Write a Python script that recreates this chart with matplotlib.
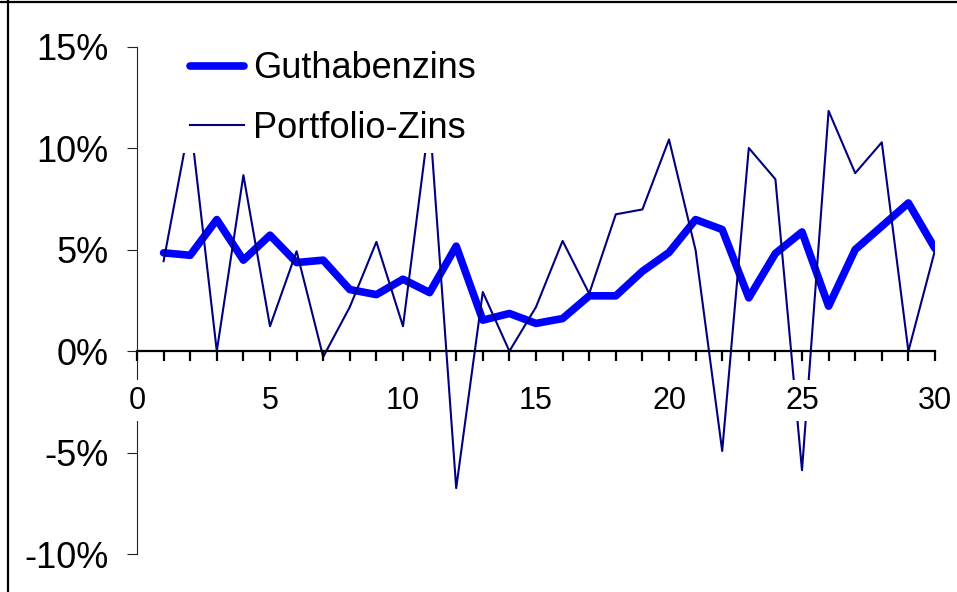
import matplotlib
matplotlib.use("Agg")
import matplotlib.pyplot as plt
from matplotlib.lines import Line2D
from matplotlib.ticker import MultipleLocator, FixedLocator, FuncFormatter

plt.rcParams['font.family'] = ['Liberation Sans', 'DejaVu Sans']
plt.rcParams['axes.unicode_minus'] = False

periods = list(range(1, 31))
guthabenzins = [4.85, 4.73, 6.49, 4.49, 5.72, 4.37, 4.49, 3.04, 2.79, 3.55,
                2.89, 5.18, 1.53, 1.86, 1.37, 1.61, 2.73, 2.73, 3.94, 4.87,
                6.49, 6.00, 2.63, 4.82, 5.88, 2.22, 5.01, 6.16, 7.31, 5.06]
portfolio_zins = [4.44, 11.4, 0.0, 8.68, 1.23, 4.93, -0.28, 2.18, 5.39, 1.23,
                  11.5, -6.75, 2.92, 0.0, 2.18, 5.44, 2.84, 6.75, 6.99, 10.44,
                  4.98, -4.92, 10.02, 8.48, -5.87, 11.85, 8.78, 10.30, 0.0, 4.98]
series_labels = ["Guthabenzins", "Portfolio-Zins"]
y_ticks = [-10, -5, 0, 5, 10, 15]
x_ticks = [0, 5, 10, 15, 20, 25, 30]

W, H = 957, 592
fig = plt.figure(figsize=(W / 100, H / 100), dpi=100)
ax = fig.add_axes([137 / W, (H - 554) / H, (935 - 137) / W, (554 - 47) / H])

ax.plot(periods, guthabenzins, color='#0000FF', lw=5.5, solid_capstyle='round',
        solid_joinstyle='round', label=series_labels[0], zorder=2)
ax.plot(periods, portfolio_zins, color='#000080', lw=1.5,
        label=series_labels[1], zorder=2.1)

ax.set_xlim(0, 30)
ax.set_ylim(-10, 15)
ax.set_axisbelow(False)

for s in ['top', 'right']:
    ax.spines[s].set_visible(False)
ax.spines['bottom'].set_position(('data', 0))
ax.spines['bottom'].set_linewidth(1.6)
ax.spines['bottom'].set_color('black')
ax.spines['left'].set_linewidth(0.8)
ax.spines['left'].set_color('#222222')

ax.xaxis.set_major_locator(FixedLocator(x_ticks))
ax.xaxis.set_minor_locator(MultipleLocator(1))
ax.yaxis.set_major_locator(FixedLocator(y_ticks))
ax.yaxis.set_major_formatter(FuncFormatter(lambda v, p: f"{v:.0f}%"))

ax.tick_params(axis='x', which='both', direction='out', length=7.5, width=1.6,
               color='black')
ax.tick_params(axis='x', which='major', labelsize=22, pad=17.5)
ax.tick_params(axis='y', which='major', direction='out', length=7.5, width=0.8,
               color='#222222', labelsize=26, pad=13)

for lbl in ax.get_xticklabels():
    lbl.set_bbox(dict(facecolor='white', edgecolor='none', pad=4))

leg = ax.legend(loc='upper left', bbox_to_anchor=(183 / W, 1 - 44 / H),
                bbox_transform=fig.transFigure, borderaxespad=0, borderpad=0.2,
                fontsize=26, frameon=True, facecolor='white', edgecolor='none',
                framealpha=1, fancybox=False, handlelength=1.5,
                handletextpad=0.25, labelspacing=0.69)

# figure frame lines
fig.add_artist(Line2D([8 / W, 8 / W], [0, 1], transform=fig.transFigure,
                      color='black', lw=1.6))
fig.add_artist(Line2D([0, 1], [1 - 2 / H, 1 - 2 / H], transform=fig.transFigure,
                      color='black', lw=1.6))

fig.savefig("out.png", dpi=100)
